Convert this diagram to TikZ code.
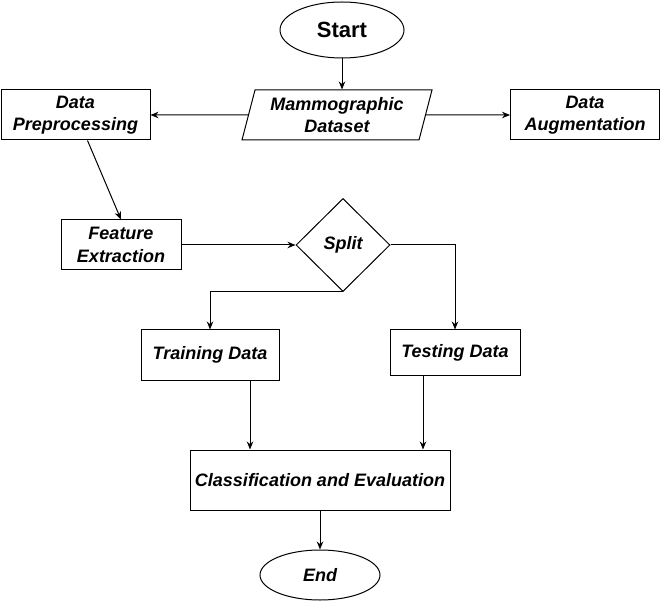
\documentclass[tikz,border=0pt]{standalone}
\usepackage{fontspec}
\setmainfont{Liberation Sans}
\usetikzlibrary{shapes.geometric,arrows.meta}

\begin{document}
\begin{tikzpicture}[x=1pt,y=-1pt,
	txt/.style={font=\bfseries\itshape\fontsize{18}{22.5}\selectfont, align=center, inner sep=0pt},
	box/.style={txt, rectangle, draw=black, line width=1pt},
	term/.style={txt, ellipse, draw=black, line width=1pt},
	io/.style={txt, trapezium, trapezium left angle=70, trapezium right angle=110, trapezium stretches body, draw=black, line width=1pt},
	dec/.style={txt, diamond, draw=black, line width=1pt},
	arr/.style={-{Stealth[length=8pt,width=6.5pt]}, line width=1pt}]
			\useasboundingbox (0,0) rectangle (661,601);
			\node[term, minimum width=124, minimum height=56, font=\bfseries\fontsize{22}{24}\selectfont](start) at (342,30){Start};
			\node[io, minimum width=190, minimum height=50](dataset) at (337,115){Mammographic\\Dataset};
			\node[box, minimum width=149, minimum height=50](prep) at (75.5,115){Data\\Preprocessing};
			\node[box, minimum width=149, minimum height=50](aug) at (585,115){Data\\Augmentation};
			\node[box, minimum width=120, minimum height=50](feat) at (121,245){Feature\\Extraction};
			\node[dec, minimum width=94, minimum height=93](split) at (343,245){Split};
			\node[box, minimum width=138, minimum height=50](train) at (210,355){Training Data};
			\node[box, minimum width=130, minimum height=45](test) at (455,352.5){Testing Data};
			\node[box, minimum width=260, minimum height=60](classif) at (320,480){Classification and Evaluation};
			\node[term, minimum width=120, minimum height=50](stop) at (320,575){End};
			\draw[arr] (start.south) -- (start.south |- dataset.north);
			\draw[arr] (dataset) -- (prep);
			\draw[arr] (dataset) -- (aug);
			\draw[arr] ([xshift=12pt]prep.south) -- (feat.north);
			\draw[arr] (feat) -- (split);
			\draw[arr] (split.south) -| (train.north);
			\draw[arr] (split.east) -| (test.north);
			\draw[arr] ([xshift=40pt]train.south) -- ([xshift=40pt]train.south |- classif.north);
			\draw[arr] ([xshift=-32pt]test.south) -- ([xshift=-32pt]test.south |- classif.north);
			\draw[arr] (classif) -- (stop);
			\end{tikzpicture}
\end{document}
